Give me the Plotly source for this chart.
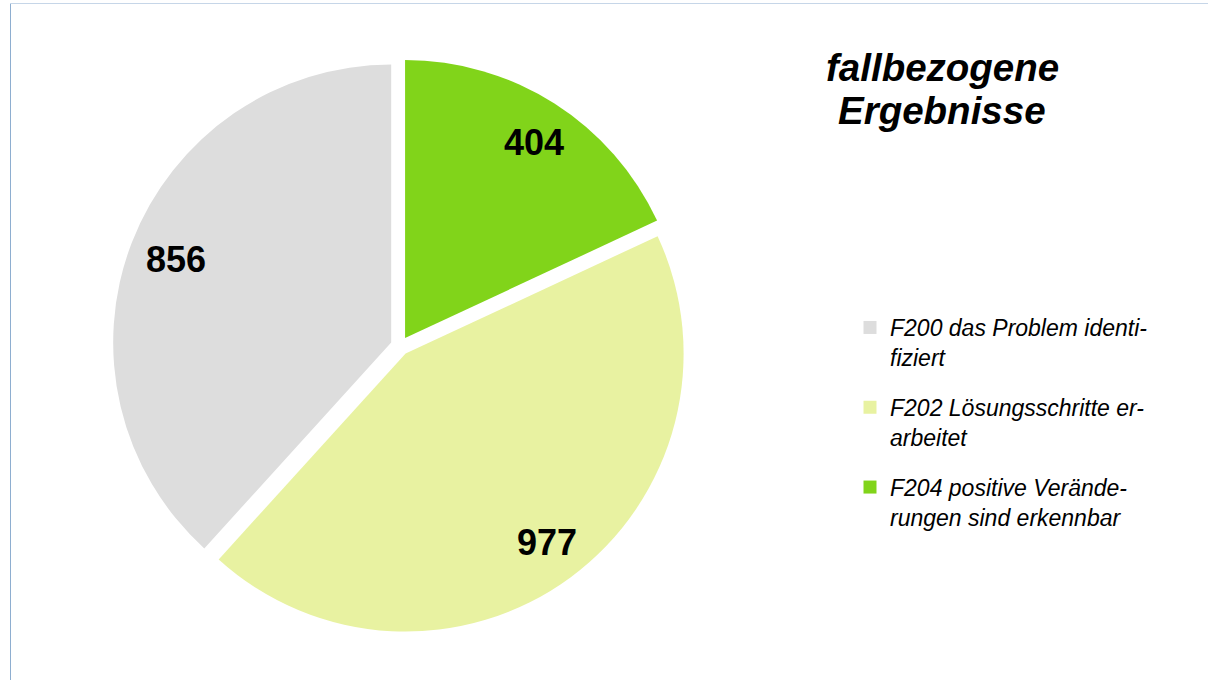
import numpy as np
import plotly.graph_objects as go

# ---- data (legend order) ----
categories = ["F200 das Problem identi-<br>fiziert",
              "F202 Lösungsschritte er-<br>arbeitet",
              "F204 positive Verände-<br>rungen sind erkennbar"]
values = [856, 977, 404]
colors = ["#dddddd", "#e8f2a1", "#81d41a"]
title_lines = ["fallbezogene", "Ergebnisse"]

W, H = 1208, 680
cx, cy = 400, 346          # pie centre (px)
R = 278                    # pie radius (px)
pull = 0.034
half = R * (1 + pull)

# pie drawn clockwise from 12 o'clock starting with the last category
pie_labels = categories[::-1]
pie_values = values[::-1]
pie_colors = colors[::-1]

fig = go.Figure()
fig.add_trace(go.Pie(
    labels=pie_labels,
    values=pie_values,
    marker=dict(colors=pie_colors, line=dict(width=0)),
    sort=False,
    direction="clockwise",
    rotation=0,
    pull=[pull] * len(pie_values),
    textinfo="none",
    hoverinfo="label+value",
    showlegend=False,
    domain=dict(x=[(cx - half) / W, (cx + half) / W],
                y=[1 - (cy + half) / H, 1 - (cy - half) / H]),
))

# legend entries (one group per category so the gap between entries can be set)
for i, (cat, col) in enumerate(zip(categories, colors)):
    fig.add_trace(go.Scatter(
        x=[None], y=[None], mode="markers", name=f"<i>{cat}</i>",
        marker=dict(symbol="square", size=13, color=col),
        legendgroup=f"g{i}", showlegend=True, hoverinfo="skip"))

# value labels placed at each slice's mid angle (computed from data)
vals = np.array(pie_values, dtype=float)
cum = np.cumsum(vals)
mid = (cum - vals / 2) / vals.sum() * 360.0   # clockwise degrees from top
theta = np.deg2rad(mid)
rl = 243
annotations = []
for v, t in zip(pie_values, theta):
    px = cx + 3 + rl * np.sin(t)
    py = cy + 1 - rl * np.cos(t)
    annotations.append(dict(
        x=px / W, y=1 - py / H, xref="paper", yref="paper",
        text=f"<b>{v}</b>", showarrow=False, xanchor="center", yanchor="middle",
        font=dict(family="Liberation Sans", size=36, color="#000000")))

# title (two lines)
for i, line in enumerate(title_lines):
    annotations.append(dict(
        x=942 / W, y=1 - (68 + i * 43) / H, xref="paper", yref="paper",
        text=f"<b><i>{line}</i></b>", showarrow=False,
        xanchor="center", yanchor="middle",
        font=dict(family="Liberation Sans", size=38.5, color="#000000")))

shapes = [
    dict(type="line", xref="paper", yref="paper",
         x0=10.5 / W, x1=10.5 / W, y0=0, y1=1 - 3.5 / H,
         line=dict(color="#8eaed0", width=1)),
    dict(type="line", xref="paper", yref="paper",
         x0=10.5 / W, x1=1, y0=1 - 3.5 / H, y1=1 - 3.5 / H,
         line=dict(color="#c6d6e8", width=1)),
]

fig.update_layout(
    width=W, height=H,
    margin=dict(l=0, r=0, t=0, b=0),
    paper_bgcolor="white", plot_bgcolor="white",
    xaxis=dict(visible=False), yaxis=dict(visible=False),
    showlegend=True,
    legend=dict(
        x=850 / W, y=1 - 306 / H, xanchor="left", yanchor="top",
        font=dict(family="Liberation Sans", size=23, color="#000000"),
        valign="top", traceorder="grouped", tracegroupgap=17,
        bgcolor="rgba(0,0,0,0)",
        itemclick=False, itemdoubleclick=False,
    ),
    annotations=annotations,
    shapes=shapes,
)

fig.write_html("out.html", config={"displayModeBar": False},
               post_script="document.body.style.margin='0';")
